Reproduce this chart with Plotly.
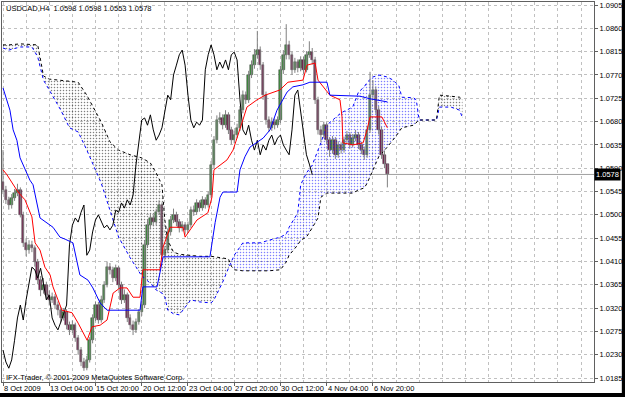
import numpy as np
import plotly.graph_objects as go

# ---------------- data (USDCAD H4) ----------------
first_open = 1.0563
close = [1.0548, 1.0529, 1.0519, 1.0532, 1.0542, 1.0548, 1.0500, 1.0446, 1.0432, 1.0442,
         1.0436, 1.0409, 1.0374, 1.0355, 1.0365, 1.0345, 1.0336, 1.0341, 1.0326, 1.0316,
         1.0301, 1.0312, 1.0287, 1.0278, 1.0287, 1.0262, 1.0239, 1.0216, 1.0204, 1.0220,
         1.0258, 1.0301, 1.0326, 1.0297, 1.0336, 1.0365, 1.0399, 1.0394, 1.0378, 1.0397,
         1.0365, 1.0336, 1.0345, 1.0301, 1.0287, 1.0278, 1.0293, 1.0312, 1.0326, 1.0442,
         1.0480, 1.0494, 1.0486, 1.0505, 1.0519, 1.0422, 1.0432, 1.0467, 1.0490, 1.0500,
         1.0486, 1.0475, 1.0480, 1.0471, 1.0480, 1.0509, 1.0505, 1.0523, 1.0513, 1.0529,
         1.0519, 1.0538, 1.0596, 1.0644, 1.0683, 1.0687, 1.0673, 1.0693, 1.0664, 1.0644,
         1.0654, 1.0668, 1.0702, 1.0731, 1.0722, 1.0770, 1.0789, 1.0809, 1.0818, 1.0789,
         1.0731, 1.0683, 1.0668, 1.0679, 1.0673, 1.0683, 1.0780, 1.0809, 1.0828, 1.0809,
         1.0780, 1.0795, 1.0783, 1.0799, 1.0780, 1.0809, 1.0814, 1.0799, 1.0722, 1.0664,
         1.0654, 1.0673, 1.0644, 1.0625, 1.0644, 1.0616, 1.0635, 1.0625, 1.0644, 1.0654,
         1.0635, 1.0648, 1.0654, 1.0635, 1.0625, 1.0616, 1.0664, 1.0731, 1.0741, 1.0702,
         1.0664, 1.0616, 1.0598, 1.0578]
high = [1.0625, 1.0556, 1.0535, 1.0540, 1.0550, 1.0560, 1.0553, 1.0506, 1.0455, 1.0451,
        1.0450, 1.0441, 1.0415, 1.0382, 1.0378, 1.0371, 1.0354, 1.0350, 1.0347, 1.0333,
        1.0322, 1.0320, 1.0318, 1.0294, 1.0296, 1.0292, 1.0268, 1.0245, 1.0224, 1.0228,
        1.0264, 1.0308, 1.0333, 1.0332, 1.0344, 1.0372, 1.0410, 1.0407, 1.0400, 1.0404,
        1.0402, 1.0371, 1.0356, 1.0350, 1.0308, 1.0296, 1.0300, 1.0318, 1.0334, 1.0450,
        1.0490, 1.0502, 1.0500, 1.0512, 1.0528, 1.0524, 1.0440, 1.0474, 1.0498, 1.0512,
        1.0506, 1.0492, 1.0488, 1.0486, 1.0487, 1.0516, 1.0518, 1.0530, 1.0528, 1.0536,
        1.0534, 1.0545, 1.0604, 1.0652, 1.0692, 1.0698, 1.0694, 1.0702, 1.0698, 1.0670,
        1.0662, 1.0676, 1.0710, 1.0740, 1.0738, 1.0778, 1.0798, 1.0820, 1.0855, 1.0825,
        1.0795, 1.0738, 1.0690, 1.0688, 1.0686, 1.0690, 1.0788, 1.0818, 1.0868, 1.0836,
        1.0815, 1.0803, 1.0800, 1.0806, 1.0805, 1.0816, 1.0835, 1.0822, 1.0805, 1.0728,
        1.0672, 1.0680, 1.0678, 1.0650, 1.0652, 1.0650, 1.0642, 1.0640, 1.0651, 1.0662,
        1.0660, 1.0656, 1.0664, 1.0660, 1.0641, 1.0632, 1.0672, 1.0776, 1.0760, 1.0748,
        1.0710, 1.0670, 1.0624, 1.0598]
low = [1.0540, 1.0521, 1.0510, 1.0512, 1.0527, 1.0536, 1.0495, 1.0438, 1.0420, 1.0425,
       1.0428, 1.0400, 1.0366, 1.0343, 1.0348, 1.0336, 1.0325, 1.0330, 1.0318, 1.0306,
       1.0292, 1.0296, 1.0279, 1.0268, 1.0272, 1.0255, 1.0230, 1.0208, 1.0199, 1.0200,
       1.0215, 1.0252, 1.0295, 1.0290, 1.0292, 1.0330, 1.0360, 1.0385, 1.0370, 1.0372,
       1.0357, 1.0328, 1.0330, 1.0293, 1.0279, 1.0268, 1.0272, 1.0288, 1.0305, 1.0320,
       1.0436, 1.0472, 1.0478, 1.0480, 1.0500, 1.0415, 1.0412, 1.0426, 1.0460, 1.0484,
       1.0478, 1.0466, 1.0468, 1.0462, 1.0465, 1.0475, 1.0498, 1.0500, 1.0506, 1.0508,
       1.0512, 1.0514, 1.0532, 1.0590, 1.0638, 1.0676, 1.0665, 1.0668, 1.0656, 1.0636,
       1.0638, 1.0648, 1.0662, 1.0696, 1.0714, 1.0716, 1.0764, 1.0782, 1.0802, 1.0780,
       1.0722, 1.0674, 1.0660, 1.0662, 1.0665, 1.0668, 1.0677, 1.0772, 1.0800, 1.0800,
       1.0770, 1.0774, 1.0775, 1.0777, 1.0772, 1.0775, 1.0803, 1.0790, 1.0714, 1.0655,
       1.0640, 1.0648, 1.0636, 1.0612, 1.0618, 1.0608, 1.0610, 1.0618, 1.0620, 1.0638,
       1.0628, 1.0630, 1.0642, 1.0627, 1.0617, 1.0606, 1.0610, 1.0658, 1.0722, 1.0695,
       1.0655, 1.0608, 1.0590, 1.0553]

# Ichimoku Tenkan-sen (red) and Kijun-sen (blue), read as vertices (bar index, price)
tenkan_bar = [0, 1.4, 5.2, 7.6, 10.0, 11.1, 12.8, 14.5, 16.3, 17.3, 20.4, 23.9, 26.0, 27.7,
              29.1, 30.8, 33.6, 36.0, 38.1, 40.5, 42.9, 45.0, 47.4, 48.4, 54.3, 55.4, 57.8,
              62.3, 63.0, 67.1, 70.9, 72.3, 73.0, 77.5, 79.6, 83.0, 84.4, 87.9, 90.7, 95.8,
              98.6, 103.8, 105.2, 108.0, 109.0, 113.1, 116.6, 117.3, 117.6, 121.1, 124.6,
              126.0, 127.0, 131.1, 133.0]
tenkan = [1.0587, 1.0577, 1.0544, 1.0529, 1.0496, 1.0446, 1.0432, 1.0399, 1.0384, 1.0361,
          1.0316, 1.0311, 1.0291, 1.0274, 1.0258, 1.0284, 1.0287, 1.0297, 1.0349, 1.0359,
          1.0359, 1.0341, 1.0341, 1.0394, 1.0394, 1.0438, 1.0476, 1.0476, 1.0457, 1.0490,
          1.0504, 1.0534, 1.0587, 1.0606, 1.0625, 1.0683, 1.0708, 1.0722, 1.0731, 1.0741,
          1.0756, 1.0760, 1.0789, 1.0793, 1.0760, 1.0731, 1.0722, 1.0689, 1.0639, 1.0635,
          1.0639, 1.0664, 1.0689, 1.0689, 1.0668]
kijun_bar = [0, 2.4, 3.5, 4.8, 5.9, 9.3, 10.4, 11.8, 12.8, 17.3, 19.7, 21.5, 24.2, 26.6,
             29.4, 31.1, 33.6, 36.0, 47.4, 48.4, 53.3, 54.3, 55.4, 71.6, 73.4, 75.1, 76.1,
             81.0, 82.0, 83.7, 85.5, 90.0, 92.4, 94.8, 98.3, 100.3, 103.8, 106.2, 112.1,
             113.1, 123.5, 127.0, 133.0]
kijun = [1.0745, 1.0702, 1.0664, 1.0644, 1.0610, 1.0567, 1.0558, 1.0523, 1.0494, 1.0476,
         1.0457, 1.0453, 1.0446, 1.0384, 1.0374, 1.0359, 1.0330, 1.0316, 1.0316, 1.0361,
         1.0361, 1.0388, 1.0419, 1.0419, 1.0485, 1.0534, 1.0544, 1.0544, 1.0587, 1.0612,
         1.0631, 1.0648, 1.0664, 1.0702, 1.0737, 1.0747, 1.0751, 1.0756, 1.0756, 1.0731,
         1.0729, 1.0724, 1.0718]

# Senkou spans A (blue dotted) and B (black dotted), shifted 26 bars forward
cloud_bar = [0, 2, 6, 10, 12, 13, 14, 16, 20, 23, 26, 29, 34, 37, 40, 44, 48, 51, 53, 55,
             56, 57, 59, 61, 65, 68, 72, 73, 76, 78, 79, 80, 83, 89, 92, 96, 98, 99, 102,
             103, 105, 107, 109, 110, 112, 117, 121, 123, 125, 126, 128, 130, 133, 135, 136,
             137, 138, 142, 143, 144, 150, 151, 155, 158, 159]
span_a = [1.0822, 1.0818, 1.0824, 1.0824, 1.0805, 1.0785, 1.0760, 1.0741, 1.0702, 1.0668,
          1.0660, 1.0625, 1.0561, 1.0509, 1.0457, 1.0417, 1.0382, 1.0368, 1.0355, 1.0349,
          1.0341, 1.0316, 1.0309, 1.0307, 1.0336, 1.0332, 1.0330, 1.0336, 1.0370, 1.0397,
          1.0409, 1.0422, 1.0446, 1.0446, 1.0451, 1.0457, 1.0463, 1.0476, 1.0504, 1.0558,
          1.0581, 1.0596, 1.0625, 1.0639, 1.0673, 1.0697, 1.0708, 1.0737, 1.0747, 1.0756,
          1.0766, 1.0770, 1.0766, 1.0760, 1.0754, 1.0749, 1.0727, 1.0726, 1.0722, 1.0683,
          1.0683, 1.0708, 1.0708, 1.0702, 1.0687]
span_b = [1.0828, 1.0828, 1.0830, 1.0828, 1.0828, 1.0799, 1.0768, 1.0762, 1.0760, 1.0758,
          1.0756, 1.0731, 1.0679, 1.0641, 1.0625, 1.0616, 1.0610, 1.0600, 1.0581, 1.0558,
          1.0490, 1.0451, 1.0428, 1.0424, 1.0422, 1.0420, 1.0420, 1.0419, 1.0417, 1.0415,
          1.0401, 1.0394, 1.0392, 1.0392, 1.0392, 1.0394, 1.0409, 1.0422, 1.0442, 1.0451,
          1.0457, 1.0475, 1.0494, 1.0534, 1.0542, 1.0542, 1.0542, 1.0548, 1.0552, 1.0561,
          1.0587, 1.0612, 1.0631, 1.0644, 1.0652, 1.0660, 1.0668, 1.0673, 1.0679, 1.0683,
          1.0683, 1.0731, 1.0729, 1.0727, 1.0722]
chikou_shift = 26

date_tick_bars = [0, 16, 32, 48, 64, 80, 96, 112, 128]
date_tick_text = ["8 Oct 2009", "13 Oct 04:00", "15 Oct 20:00", "20 Oct 12:00", "23 Oct 04:00",
                  "27 Oct 20:00", "30 Oct 12:00", "4 Nov 04:00", "6 Nov 20:00"]
price_ticks = [1.0185, 1.0230, 1.0275, 1.0320, 1.0365, 1.0410, 1.0455, 1.0500, 1.0545,
               1.0590, 1.0635, 1.0680, 1.0725, 1.0770, 1.0815, 1.0860, 1.0905]
header_text = "USDCAD,H4  1.0598 1.0598 1.0553 1.0578"
copyright_text = "IFX-Trader, © 2001-2009 MetaQuotes Software Corp."

# ---------------- derived ----------------
bars = list(range(len(close)))
opens = [first_open] + close[:-1]
a = np.array(span_a)
b = np.array(span_b)
top = np.maximum(a, b)
chikou_x = [i - chikou_shift for i in bars[chikou_shift:]]
chikou_y = close[chikou_shift:]

o_arr = np.array(opens)
c_arr = np.array(close)
body_base = np.minimum(o_arr, c_arr)
body_h = np.maximum(np.abs(c_arr - o_arr), 0.00012)
body_col = ["#3d8f3d" if c >= o else "#7a1f50" for o, c in zip(opens, close)]

wick_x, wick_y = [], []
for i, h, l in zip(bars, high, low):
    wick_x += [i, i, None]
    wick_y += [l, h, None]

FONT = "Liberation Sans"
fig = go.Figure()

pat = dict(shape=".", bgcolor="rgba(0,0,0,0)", size=3, solidity=0.2)
# bullish cloud (A above B): blue dots
fig.add_trace(go.Scatter(x=cloud_bar, y=b, mode="lines", line=dict(width=0),
                         hoverinfo="skip", showlegend=False))
fig.add_trace(go.Scatter(x=cloud_bar, y=top, mode="lines", line=dict(width=0),
                         fill="tonexty", fillcolor="rgba(0,0,0,0)",
                         fillpattern=dict(pat, fgcolor="#0000ff"),
                         hoverinfo="skip", showlegend=False))
# bearish cloud (B above A): black dots
fig.add_trace(go.Scatter(x=cloud_bar, y=a, mode="lines", line=dict(width=0),
                         hoverinfo="skip", showlegend=False))
fig.add_trace(go.Scatter(x=cloud_bar, y=top, mode="lines", line=dict(width=0),
                         fill="tonexty", fillcolor="rgba(0,0,0,0)",
                         fillpattern=dict(pat, fgcolor="#000000"),
                         hoverinfo="skip", showlegend=False))
# span edges
fig.add_trace(go.Scatter(x=cloud_bar, y=span_a, mode="lines",
                         line=dict(color="#0000ff", width=1, dash="dot"), showlegend=False))
fig.add_trace(go.Scatter(x=cloud_bar, y=span_b, mode="lines",
                         line=dict(color="#000000", width=1, dash="dot"), showlegend=False))

# candles: wicks + bodies
fig.add_trace(go.Scatter(x=wick_x, y=wick_y, mode="lines",
                         line=dict(color="#808080", width=1), showlegend=False))
fig.add_trace(go.Bar(x=bars, y=body_h, base=body_base, width=0.85,
                     marker=dict(color=body_col, line=dict(width=0.5, color="#404040")),
                     showlegend=False))

# chikou span
fig.add_trace(go.Scatter(x=chikou_x, y=chikou_y, mode="lines",
                         line=dict(color="#000000", width=1), showlegend=False))
# tenkan / kijun
fig.add_trace(go.Scatter(x=tenkan_bar, y=tenkan, mode="lines",
                         line=dict(color="#ff0000", width=1), showlegend=False))
fig.add_trace(go.Scatter(x=kijun_bar, y=kijun, mode="lines",
                         line=dict(color="#0000ff", width=1), showlegend=False))

# bid line
fig.add_shape(type="line", xref="paper", x0=0, x1=1, yref="y", y0=close[-1], y1=close[-1],
              line=dict(color="#a0a0a0", width=1), layer="below")

annotations = []
for tb, tt in zip(date_tick_bars, date_tick_text):
    annotations.append(dict(x=tb, xref="x", y=-0.016, yref="paper", text=tt, showarrow=False,
                            xanchor="left", yanchor="middle", xshift=-1,
                            font=dict(family=FONT, size=7.5, color="#000000")))
annotations.append(dict(x=0.004, xref="paper", y=0.984, yref="paper", text=header_text,
                        showarrow=False, xanchor="left", yanchor="middle",
                        font=dict(family=FONT, size=7.5, color="#000000")))
annotations.append(dict(x=0.004, xref="paper", y=0.011, yref="paper", text=copyright_text,
                        showarrow=False, xanchor="left", yanchor="middle",
                        font=dict(family=FONT, size=7.5, color="#000000")))
annotations.append(dict(x=1.0, xref="paper", y=close[-1], yref="y", text=f"{close[-1]:.4f}",
                        showarrow=False, xanchor="left", yanchor="middle", xshift=0,
                        bgcolor="#000000", font=dict(family=FONT, size=7.5, color="#ffffff"),
                        borderpad=1))

# outer dark frame (bottom / right)
fig.add_shape(type="rect", xref="paper", yref="paper", x0=-0.1, x1=1.1, y0=-0.2, y1=-0.029,
              fillcolor="#000000", line=dict(width=0))
fig.add_shape(type="rect", xref="paper", yref="paper", x0=1.047, x1=1.2, y0=-0.2, y1=1.1,
              fillcolor="#000000", line=dict(width=0))

fig.update_layout(
    width=625, height=397,
    margin=dict(l=2, r=31, t=2, b=15),
    paper_bgcolor="#ffffff", plot_bgcolor="#ffffff",
    showlegend=False, hovermode=False, barmode="overlay", bargap=0,
    annotations=annotations,
    xaxis=dict(range=[-0.35, 204.5],
               tickmode="array", tickvals=date_tick_bars, showticklabels=False,
               ticks="outside", ticklen=3, tickcolor="#606060",
               showgrid=True, gridcolor="#c0c0c0", griddash="dot", gridwidth=1,
               minor=dict(tick0=0, dtick=8, showgrid=True, gridcolor="#c0c0c0",
                          griddash="dot", ticks=""),
               showline=True, linecolor="#606060", mirror=True, zeroline=False),
    yaxis=dict(range=[1.01774, 1.09108], side="right",
               tickmode="array", tickvals=price_ticks,
               ticktext=[f"{p:.4f}" for p in price_ticks],
               ticks="outside", ticklen=3, tickcolor="#606060",
               tickfont=dict(family=FONT, size=7.5, color="#000000"),
               showgrid=True, gridcolor="#c0c0c0", griddash="dot", gridwidth=1,
               showline=True, linecolor="#606060", mirror=True, zeroline=False),
)

fig.write_html("out.html")
